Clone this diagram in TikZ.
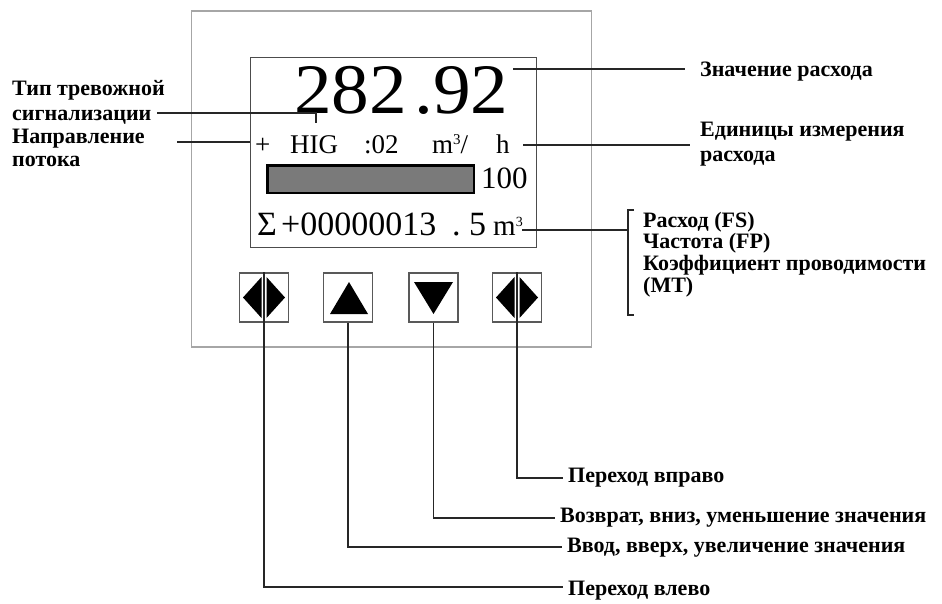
\documentclass[tikz,border=0pt]{standalone}
\usepackage{fontspec}
\setmainfont{Liberation Serif}
\begin{document}
\begin{tikzpicture}[x=1pt,y=-1pt,
  lbl/.style={font=\fontsize{22}{25}\selectfont\bfseries, inner sep=0pt, align=left},
  lead/.style={draw=black!85, line width=1.1pt},
  lcdtxt/.style={inner sep=0pt, anchor=base west},
  btn/.style={draw=black!65, line width=1.2pt, minimum width=49pt, minimum height=49pt, inner sep=0pt},
  tri/.style={fill=black}]
\useasboundingbox (0,0) rectangle (942,603);
% outer frame
\node[draw=black!35, line width=1.2pt, minimum width=400pt, minimum height=336pt, inner sep=0pt] (frame) at (391.5,179) {};
% LCD
\node[draw=black!70, line width=1.5pt, minimum width=286pt, minimum height=190pt, inner sep=0pt] (lcd) at (393.5,152.5) {};
% LCD texts
\node[lcdtxt, font=\fontsize{71}{71}\selectfont] (val) at (294,113) {\scalebox{1.06}[1]{282\hspace{7pt}.92}};
\node[lcdtxt, font=\fontsize{27}{27}\selectfont] (plus) at (255,153) {+};
\node[lcdtxt, font=\fontsize{27}{27}\selectfont] (hig) at (290,153) {HIG};
\node[lcdtxt, font=\fontsize{27}{27}\selectfont] (z02) at (364,153) {:02};
\node[lcdtxt, font=\fontsize{27}{27}\selectfont] (m3h) at (432,153) {m\raisebox{9pt}{\fontsize{15}{15}\selectfont 3}/};
\node[lcdtxt, font=\fontsize{27}{27}\selectfont] (hh) at (496,153) {h};
\node[draw=black, line width=2.5pt, fill=black!52, minimum width=206.5pt, minimum height=27.5pt, inner sep=0pt] (bar) at (370.5,179) {};
\node[lcdtxt, font=\fontsize{31}{31}\selectfont] (hund) at (481,188) {100};
\node[lcdtxt, font=\fontsize{34}{34}\selectfont] (sig) at (257,235) {Σ};
\node[lcdtxt, font=\fontsize{34}{34}\selectfont] (tot) at (281,235) {+00000013};
\node[lcdtxt, font=\fontsize{34}{34}\selectfont] (dot) at (452,235) {.};
\node[lcdtxt, font=\fontsize{34}{34}\selectfont] (five) at (469,235) {5};
\node[lcdtxt, font=\fontsize{29}{29}\selectfont] (mcub) at (493,235) {m\raisebox{9pt}{\fontsize{14}{14}\selectfont 3}};
% buttons
\node[btn] (b1) at (264,297.5) {};
\node[btn] (b2) at (348,297.5) {};
\node[btn] (b3) at (433.5,297.5) {};
\node[btn] (b4) at (517,297.5) {};
\fill[tri] (243,297.5) -- (261.5,277) -- (261.5,318) -- cycle;
\fill[tri] (285,297.5) -- (266.5,277) -- (266.5,318) -- cycle;
\fill[tri] (330,314) -- (368,314) -- (349,282) -- cycle;
\fill[tri] (414,282) -- (453,282) -- (433.5,314) -- cycle;
\fill[tri] (496,297.5) -- (514.5,277) -- (514.5,318) -- cycle;
\fill[tri] (538,297.5) -- (519.5,277) -- (519.5,318) -- cycle;
\draw[black, line width=2.4pt] (b1.north) -- (b1.south);
\draw[black, line width=2.4pt] (b4.north) -- (b4.south);
% labels
\node[lbl, anchor=west] (lz) at (700,72) {Значение расхода};
\node[lbl, anchor=north west] (le) at (700,122) {Единицы измерения\\расхода};
\node[lbl, anchor=north west] (lt) at (12,80) {Тип тревожной\\сигнализации};
\node[lbl, anchor=north west, font=\fontsize{22}{23}\selectfont\bfseries] (ln) at (12,129) {Направление\\потока};
\node[lbl, anchor=west] (lf1) at (643,222) {Расход (FS)};
\node[lbl, anchor=west] (lf2) at (643,243.5) {Частота (FP)};
\node[lbl, anchor=west] (lf3) at (643,265) {Коэффициент проводимости};
\node[lbl, anchor=west] (lf4) at (643,287) {(MT)};
\node[lbl, anchor=west] (lr) at (568,478) {Переход вправо};
\node[lbl, anchor=west] (ld) at (560,518) {Возврат, вниз, уменьшение значения};
\node[lbl, anchor=west] (lu) at (567,548) {Ввод, вверх, увеличение значения};
\node[lbl, anchor=west] (ll) at (568,591) {Переход влево};
% leader coordinates
\coordinate (cz) at (513,69);
\coordinate (ce) at (523,145);
\coordinate (ct) at (157,113);
\coordinate (ctk) at (316,123);
\coordinate (cn) at (177,142);
\coordinate (cm) at (522,230);
\coordinate (cbr) at (628,230);
% connectors
\draw[lead] (cz) -- (685,69);
\draw[lead] (ce) -- (690,145);
\draw[lead] (ct) -| (ctk);
\draw[lead] (cn) -- (lcd.west |- cn);
\draw[lead] (cm) -- (cbr);
\draw[lead] (634,210) -- (628,210) -- (628,315) -- (634,315);
\draw[lead] (b4.north) -- (517,478) -- (563,478);
\draw[lead] (b3.south) -- (433.5,518) -- (555,518);
\draw[lead] (b2.south) -- (348,547) -- (562,547);
\draw[lead] (b1.north) -- (264,587) -- (563,587);
\end{tikzpicture}
\end{document}
